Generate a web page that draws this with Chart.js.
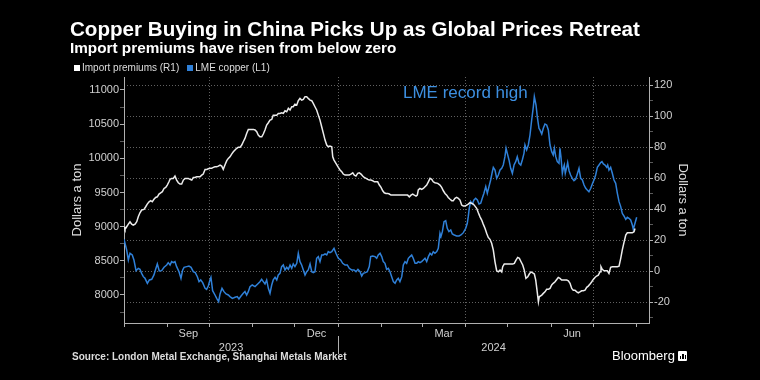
<!DOCTYPE html>
<html>
<head>
<meta charset="utf-8">
<script src="https://cdn.jsdelivr.net/npm/chart.js@4.4.1/dist/chart.umd.min.js"></script>
<style>
html,body{margin:0;padding:0;background:#000;}
#wrap{position:relative;width:760px;height:380px;overflow:hidden;background:#000;font-family:"Liberation Sans",Arial,sans-serif;color:#fff;}
#c{position:absolute;left:0;top:0;}
.t{position:absolute;white-space:nowrap;line-height:1;}
#title{left:70px;top:19px;font-size:20.6px;font-weight:bold;color:#fff;}
#sub{left:70px;top:40px;font-size:15.3px;font-weight:bold;color:#fff;}
#legend{left:74px;top:63px;font-size:10px;color:#ddd;}
#legend .sw{display:inline-block;width:6px;height:6px;margin-right:2px;vertical-align:0px;}
#legend .item{margin-right:8px;}
#note{left:403px;top:84px;font-size:17px;color:#3d8fe0;}
#source{left:72px;top:352px;font-size:10px;font-weight:bold;color:#ddd;}
#brand{left:612px;top:349px;font-size:13px;color:#fff;}
#brand .ic{display:inline-block;width:9px;height:10px;background:#fff;border-radius:1px;margin-left:3px;vertical-align:-1px;position:relative;}
#brand .ic i{position:absolute;bottom:2px;width:1.5px;background:#000;}
</style>
</head>
<body>
<div id="wrap">
<canvas id="c" width="760" height="380"></canvas>
<div class="t" id="title">Copper Buying in China Picks Up as Global Prices Retreat</div>
<div class="t" id="sub">Import premiums have risen from below zero</div>
<div class="t" id="legend"><span class="item"><span class="sw" style="background:#fff"></span>Import premiums (R1)</span><span class="item"><span class="sw" style="background:#2f80d8"></span>LME copper (L1)</span></div>
<div class="t" id="note">LME record high</div>
<div class="t" id="source">Source: London Metal Exchange, Shanghai Metals Market</div>
<div class="t" id="brand">Bloomberg<span class="ic"><i style="left:2px;height:3px"></i><i style="left:4.5px;height:5px"></i><i style="left:7px;height:4px"></i></span></div>
</div>
<script>
// ---- data: x = days since 2023-08-01 ----
const copperDays = [0,1.9,3.1,4.3,5.9,7.1,8.6,10.2,11.4,12.6,13.8,15,16.7,18.1,19.8,21.4,22.6,23.8,25.2,26.9,28.6,30.5,31.6,32.9,34,35.2,36.4,37.6,39.3,40.7,41.9,42.9,44.8,46.4,47.9,49.5,50.9,52.4,53.6,54.8,56.2,57.9,59,60.2,61.4,62.1,63.3,65,66.2,67.6,68.6,70,71.4,72.9,74.5,75.7,
77.4,79.3,80.9,82.1,83.6,85.2,86.4,87.6,88.8,90,91.6,93.6,95.5,97.1,98.3,99.5,100.7,101.9,103.1,104.3,105.5,106.6,107.9,109.1,110.2,111.4,112.6,113.8,115,116.2,117.4,118.6,119.8,120.9,122.1,123.4,124.5,125.7,126.9,128.1,129.3,130.5,131.6,132.9,134.1,135.2,136.4,137.6,138.8,140,141.2,142.4,143.6,144.8,145.9,147.1,
148.4,150,151.4,153.1,154.8,156.2,157.9,159.5,160.9,162.6,164.3,165.7,167.1,168.6,169.8,170.9,172.4,173.8,175.2,176.2,177.6,179.3,180.5,181.6,182.9,184.1,185.2,186.4,187.6,188.8,190,191.2,192.4,193.6,194.8,195.9,197.1,198.4,199.5,200.7,201.9,203.1,204.3,205.5,206.6,207.9,209.1,210.2,211.4,212.6,213.8,215,216.2,217.4,218.6,219.8,220.9,
222.1,223.4,224.5,225.7,226.4,227.4,228.6,229.8,230.9,232.1,233.4,234.5,235.9,237.6,239.3,240.7,242.4,244.1,245.2,245.9,246.6,247.6,248.8,250,251.2,252.4,253.6,254.8,255.9,257.1,258.4,259.5,260.7,261.9,263.1,263.8,265,266.2,267.4,268.6,269.8,270.9,272.1,272.9,273.8,275,276.2,277.4,278.6,279.8,280.9,282.1,283.4,284.5,285.7,286.4,287.6,288.8,290,291.2,292.4,293.1,294.3,295.2,296.4,
297.1,298.4,299.5,300.7,301.9,303.1,304.3,305.5,306.6,307.4,308.4,309.5,310.7,311.4,312.1,313.1,313.8,314.5,315.2,316.2,316.9,317.9,319,320.2,321.4,322.6,323.8,325,326.2,327.4,328.6,329.8,330.9,332.1,333.4,334.5,335.7,336.9,338.1,339.3,340.5,341.4,342.4,343.6,344.8,345.5,346.4,347.6,348.8,350,351.2,352.4,353.6,354.8,355.9,357.1,358.4,359.5,360.7,361.9,363.1,363.8,365,366.2];
const copperValues = [8815,8658,8512,8610,8585,8512,8356,8390,8376,8317,8268,8244,8171,8220,8230,8293,8376,8454,8351,8356,8405,8439,8473,8439,8488,8473,8488,8415,8341,8244,8366,8405,8415,8424,8405,8341,8327,8268,8195,8220,8180,8098,8083,8132,8220,8259,8063,8000,7951,7902,8015,8098,8049,8015,8000,7976,
7951,7966,7976,7941,7985,8024,8049,8000,8049,8122,8146,8122,8161,8195,8230,8195,8161,8220,8098,8024,8146,8220,8259,8220,8293,8317,8415,8439,8366,8405,8376,8439,8390,8454,8415,8464,8610,8488,8439,8366,8293,8341,8366,8454,8341,8327,8341,8537,8561,8488,8585,8585,8600,8585,8634,8620,
8634,8683,8610,8537,8512,8464,8439,8439,8390,8366,8366,8341,8376,8341,8278,8317,8327,8341,8415,8561,8571,8561,8537,8585,8610,8561,8488,8464,8376,8390,8341,8268,8195,8171,8220,8244,8195,8268,8439,8488,8464,8537,8561,8585,8537,8464,8464,8488,8473,8488,8512,8537,8488,8561,8610,8585,8634,
8610,8634,8683,8903,8854,8927,9073,9088,8976,8927,8951,8893,8878,8863,8863,8878,8912,8976,9049,9146,9268,9366,9332,9390,9415,9390,9332,9342,9415,9488,9585,9488,9585,9683,9805,9868,9829,9707,9756,9829,9854,9902,10024,10147,10073,9976,9854,9781,9902,9951,10024,9927,9902,9976,10073,10195,10122,10195,10341,10561,10756,10902,10780,10610,10439,
10415,10356,10439,10502,10488,10415,10195,10097,10049,10147,10024,9951,9927,10147,10024,9781,9854,9902,9781,9868,9937,9819,9756,9707,9673,9693,9771,9854,9707,9683,9610,9561,9537,9512,9561,9624,9683,9756,9868,9902,9937,9951,9917,9902,9868,9902,9829,9868,9781,9683,9634,9488,9366,9293,9195,9156,9107,9137,9122,9098,9024,8961,9049,9137];

const premiumDays = [0,0.7,1.9,3.1,4.3,5.5,6.6,7.9,9.1,10.2,11.4,12.6,14.3,15.5,16.6,17.9,19.1,20.2,21.4,22.6,23.8,25,26.2,27.4,28.6,29.8,30.9,32.1,32.9,34,35.2,36.4,37.6,38.8,40,41.2,42.4,43.6,44.8,45.9,47.1,48.4,49.5,50.7,51.9,53.1,54.3,55.5,56.6,57.9,59.1,60.2,61.4,62.6,63.8,65,66.2,67.4,68.6,69.8,70.9,72.1,73.4,74.5,75.7,
76.9,78.1,79.3,80.5,81.6,82.9,84.1,85.2,86.4,87.6,88.8,90,91.2,92.4,93.6,94.8,95.9,97.1,98.4,99.5,100.7,101.9,103.1,104.3,105.5,106.6,107.9,109.1,110.2,111.4,112.6,113.8,115,116.2,117.4,118.6,119.8,120.9,122.1,123.4,124.5,125.7,126.9,128.1,129.3,130.5,131.6,132.9,134.1,135.2,136.4,137.6,138.8,140,141.2,142.4,143.6,144.8,145.9,
147.1,148.4,149.1,150,151.4,153.1,154.3,155.5,156.6,157.9,159.5,160.9,162.1,163.4,164.5,165.7,166.9,168.1,169.3,170.5,171.6,172.9,174.1,175.2,176.4,177.6,178.8,180,181.2,182.4,183.6,184.8,185.9,187.1,188.4,189.5,190.7,195,200,202.6,203.8,205,206.2,207.4,208.6,209.5,210.2,211.4,212.6,213.8,215,216.2,217.4,218.6,219.8,220.9,
222.1,224.1,225.7,226.9,228.1,229.3,230.5,231.6,232.9,234.1,235.2,236.4,237.6,238.8,240,241.2,242.4,243.6,244.8,245.9,247.1,248.4,249.5,250.7,251.9,253.1,254.3,255.5,256.6,257.9,259.1,260.2,261.4,262.6,263.8,265,266.2,267.4,268.6,269.8,270.5,271.6,277.6,278.8,280,281.2,282.4,283.6,284.8,285.9,287.1,288.4,289.5,290.7,291.9,293.1,294.1,295,296,296.6,
297.1,298.4,299.5,300.7,301.9,303.1,304.3,305.5,306.6,307.9,309.1,310.2,311.4,312.6,316.2,317.4,318.6,319.8,320.9,322.1,323.4,324.5,325.7,326.9,328.1,329.3,330.5,331.6,332.9,334.1,335.2,336.4,337.6,338.8,340,340.7,341.6,342.9,345.2,346.4,347.6,348.8,352.4,353.6,354.8,355.9,357.1,358.4,359.5,363.1,364.3,365];
const premiumValues = [28.6,26.9,28.6,30.3,31.8,30.3,29.7,30.3,31.8,35,37.6,39.4,39.8,41.5,43.2,44.7,45.4,44.7,46.3,47.5,47.9,49.7,50.5,51.2,53.3,54,55.5,57.6,59.2,59.8,59.8,61.3,58.7,57,56.1,56.1,58.7,59.8,59.8,59.8,59.2,58.7,60.4,60.4,60.8,60.8,60.8,61.9,62.6,65.6,65.6,66,66.3,66.3,66.9,67.3,67.3,67.7,68.4,67.7,65.6,68.4,71.2,72.7,73.7,
75.5,77,78.1,79.2,79.8,79.8,81.3,83.4,85.6,88.8,91.4,91.4,91.4,91.4,91,89.9,87.7,86.6,86.6,88.4,91,94.2,95.7,97.4,97.8,100.6,100.6,100.6,101.7,101.7,102.1,101.7,103.4,102.8,105,103.9,106,106,107.7,107.1,109.9,111.4,110.3,110.8,112.5,112.5,111.4,110.3,109.9,108.2,106,103.9,100.6,97.4,93.1,88.8,84.5,81.3,80.2,
80.6,80.2,73.7,71.6,69.5,66.9,65.2,64.1,62.6,61.9,61.9,61.9,62.6,63.4,61.9,61.3,63,63.4,62.6,61.3,60.4,59.8,59.2,58.7,58.7,58.3,57.6,57.6,57.6,55.5,54,51.8,50.5,50.1,50.1,49.7,49,49,49,49,47.9,49,49.7,49,48.4,49,52.3,53.3,52.7,53.3,54.4,55.5,57.6,59.8,59.2,57.6,
57,56.6,55.5,54,51.8,50.1,49,47.5,46.3,45.4,45.4,46.9,47.5,46.9,45.8,42.6,41.9,41.9,42.6,43.2,44.1,43.7,43.2,41.9,40.5,37.6,35,32.9,30.3,27.5,24.3,21.7,20.5,17.9,13.5,6,0.2,-0.5,0.6,-0.5,2.8,4.5,4.5,5,7.1,8.8,8.2,6,3.9,0.6,-4.7,-3.7,-1.9,-0.5,-1.1,-1.9,-5.8,-12.3,-19.8,-16.6,
-16.6,-15.5,-14.4,-13.4,-11.8,-11.8,-11.2,-9,-7.9,-6.9,-5.4,-4.1,-4.7,-5.8,-5.8,-6.3,-7.9,-11.2,-12.3,-12.3,-13.4,-14,-13.4,-12.7,-12.7,-12.3,-10.5,-9.7,-8.4,-6.9,-5.4,-4.1,-3.2,-2.6,-0.5,2.8,1.1,0.2,0.2,-1.5,2.4,2.8,2.8,3.2,8.2,13.5,18.3,23.2,24.7,24.7,25.4,27.5];

// ---- axis ticks and labels ----
const monthTickDays = [0,31,61,92,122,153,184,213,244,274,305,335,366]; // 1st of Aug 2023 ... Aug 2024
const gridLineDays = [61,153,244,335];       // Oct 1, Jan 1, Apr 1, Jul 1
const monthLabels = ['Sep','Dec','Mar','Jun'];
const monthLabelDays = [46,137.5,228.5,320]; // mid-month
const yearLabels = ['2023','2024'];
const yearLabelDays = [76.5,264];
const yearBreakDay = 153;
const leftTicks = [7750,8000,8250,8500,8750,9000,9250,9500,9750,10000,10250,10500,10750,11000];
const rightTicks = [-30,-20,-10,0,10,20,30,40,50,60,70,80,90,100,110,120];

const AXIS = '#b0b0b0', GRID = 'rgba(255,255,255,0.38)', LABEL = '#d0d0d0', BLUE = '#2f80d8', WHITE = '#ececec';
Chart.defaults.font.family = "'Liberation Sans', Arial, sans-serif";

const yearBreak = {
  id: 'yearBreak',
  afterDraw(chart) {
    const s = chart.scales.xy, ctx = chart.ctx;
    const x = Math.round(s.getPixelForValue(yearBreakDay)) + 0.5;
    ctx.save();
    ctx.strokeStyle = AXIS; ctx.lineWidth = 1;
    ctx.beginPath(); ctx.moveTo(x, s.top - 5); ctx.lineTo(x, s.bottom - 1); ctx.stroke();
    ctx.restore();
  }
};

new Chart(document.getElementById('c'), {
  type: 'line',
  data: {
    datasets: [
      { label: 'Import premiums (R1)', data: premiumDays.map((d, i) => ({ x: d, y: premiumValues[i] })),
        yAxisID: 'y1', xAxisID: 'x', borderColor: WHITE, borderWidth: 1.5, pointRadius: 0, tension: 0 },
      { label: 'LME copper (L1)', data: copperDays.map((d, i) => ({ x: d, y: copperValues[i] })),
        yAxisID: 'y', xAxisID: 'x', borderColor: BLUE, borderWidth: 1.5, pointRadius: 0, tension: 0 }
    ]
  },
  options: {
    responsive: false, animation: false, events: [],
    layout: { padding: { left: 70, right: 70, top: 77, bottom: 25 } },
    plugins: { legend: { display: false }, title: { display: false }, tooltip: { enabled: false } },
    scales: {
      x: { type: 'linear', position: 'bottom', min: 0, max: 375, weight: 0,
        afterBuildTicks: s => { s.ticks = monthTickDays.map(v => ({ value: v })); },
        ticks: { display: false },
        grid: { color: c => (c.tick && gridLineDays.includes(c.tick.value)) ? GRID : 'rgba(0,0,0,0)',
                drawTicks: true, tickLength: 4, tickColor: AXIS, lineWidth: 1 },
        border: { display: true, color: AXIS, dash: [1, 2] },
        afterFit: s => { s.height = 4; } },
      xm: { type: 'linear', position: 'bottom', min: 0, max: 375, weight: 1,
        afterBuildTicks: s => { s.ticks = monthLabelDays.map(v => ({ value: v })); },
        ticks: { autoSkip: false, maxRotation: 0, padding: 0, color: LABEL, font: { size: 11 },
                 callback: (v, i) => monthLabels[i] },
        grid: { display: false, drawTicks: false }, border: { display: false },
        afterFit: s => { s.height = 14; } },
      xy: { type: 'linear', position: 'bottom', min: 0, max: 375, weight: 2,
        afterBuildTicks: s => { s.ticks = yearLabelDays.map(v => ({ value: v })); },
        ticks: { autoSkip: false, maxRotation: 0, padding: 0, color: LABEL, font: { size: 11 },
                 callback: (v, i) => yearLabels[i] },
        grid: { display: false, drawTicks: false }, border: { display: false },
        afterFit: s => { s.height = 14; } },
      y: { type: 'linear', position: 'left', min: 7590, max: 11190,
        afterBuildTicks: s => { s.ticks = leftTicks.map(v => ({ value: v })); },
        ticks: { color: LABEL, font: { size: 11 }, padding: 1, callback: v => (v % 500 === 0 ? String(v) : '') },
        grid: { drawOnChartArea: false, tickLength: 4, color: AXIS,
                tickColor: c => (c.tick && c.tick.value % 500 === 0) ? AXIS : '#5a5a5a' },
        border: { display: true, color: AXIS },
        title: { display: true, text: 'Dollars a ton', color: '#dddddd', font: { size: 13 }, padding: 0 },
        afterFit: s => { s.width = 54; } },
      y1: { type: 'linear', position: 'right', min: -33.5, max: 125.2,
        afterBuildTicks: s => { s.ticks = rightTicks.map(v => ({ value: v })); },
        ticks: { color: LABEL, font: { size: 11 }, padding: 1, callback: v => (v % 20 === 0 ? String(v) : '') },
        grid: { drawOnChartArea: true, tickLength: 4,
                tickColor: c => (c.tick && c.tick.value % 20 === 0) ? AXIS : '#5a5a5a',
                color: c => (c.tick && c.tick.value % 20 === 0) ? GRID : 'rgba(0,0,0,0)' },
        border: { display: true, color: AXIS, dash: [1, 2] },
        title: { display: true, text: 'Dollars a ton', color: '#dddddd', font: { size: 13 }, padding: 0 },
        afterFit: s => { s.width = 41; } }
    }
  },
  plugins: [yearBreak]
});
</script>
</body>
</html>
